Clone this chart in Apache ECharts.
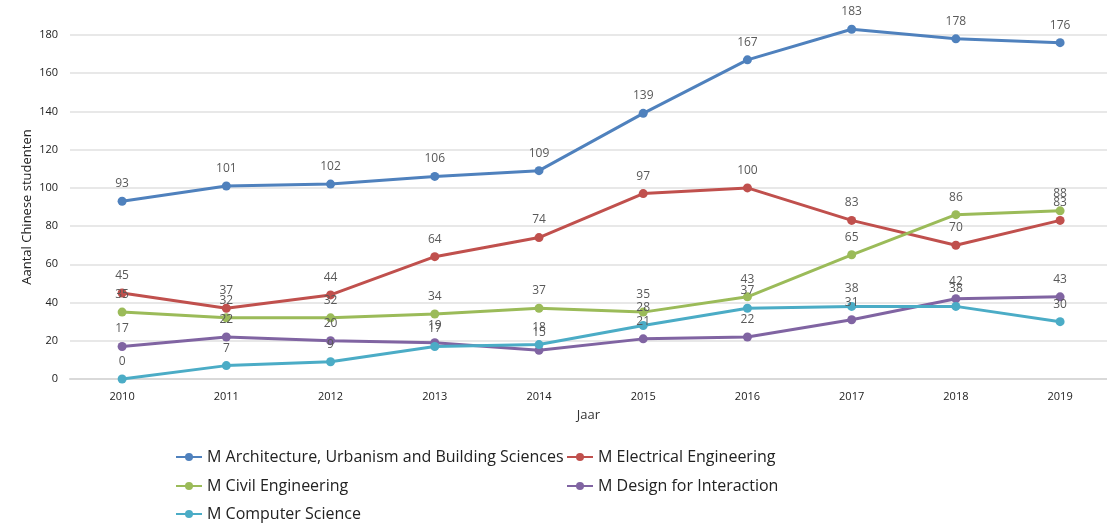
<!DOCTYPE html>
<html>
<head>
<meta charset="utf-8">
<script src="https://cdn.jsdelivr.net/npm/echarts@6/dist/echarts.min.js"></script>
<style>html,body{margin:0;padding:0;background:#fff}#c{width:1107px;height:525px}</style>
</head>
<body>
<div id="c"></div>
<script>
const years = [2010,2011,2012,2013,2014,2015,2016,2017,2018,2019];
const architecture = [93,101,102,106,109,139,167,183,178,176];
const electrical = [45,37,44,64,74,97,100,83,70,83];
const civil = [35,32,32,34,37,35,43,65,86,88];
const design = [17,22,20,19,15,21,22,31,42,43];
const computer = [0,7,9,17,18,28,37,38,38,30];
const names = ['M Architecture, Urbanism and Building Sciences','M Electrical Engineering','M Civil Engineering','M Design for Interaction','M Computer Science'];
const colors = ['#4F81BD','#C0504D','#9BBB59','#8064A2','#4BACC6'];
const seriesData = [architecture, electrical, civil, design, computer];

const FONT = '"Open Sans", "Noto Sans", sans-serif';
const chart = echarts.init(document.getElementById('c'), null, {renderer:'canvas'});
const legendPos = [[175,449],[566,449],[175,478],[566,478],[175,506]];
chart.setOption({
  animation:false,
  color: colors,
  grid:{left:70, top:35, right:0, height:344, containLabel:false},
  legend: names.map((n,i)=>({
    data:[n], left:legendPos[i][0], top:legendPos[i][1], padding:0, itemWidth:26, itemHeight:10, itemGap:0,
    textStyle:{fontFamily:FONT, fontSize:16, color:'#222'}
  })),
  xAxis:{
    type:'value', min:2009.5, max:2019.45,
    name:'Jaar', nameLocation:'middle', nameGap:30,
    nameTextStyle:{fontFamily:FONT, fontSize:13, color:'#333'},
    axisLine:{show:true, onZero:false, lineStyle:{color:'#d9d9d9', width:2}},
    axisTick:{show:false},
    splitLine:{show:false},
    axisLabel:{customValues:years, fontFamily:FONT, fontSize:11, color:'#222', margin:12, formatter:v=>String(v)}
  },
  yAxis:{
    type:'value', min:0, max:180, interval:20,
    name:'Aantal Chinese studenten', nameLocation:'middle', nameGap:36, nameRotate:90, nameMoveOverlap:false,
    nameTextStyle:{fontFamily:FONT, fontSize:13, color:'#222'},
    axisLine:{show:false}, axisTick:{show:false},
    axisLabel:{fontFamily:FONT, fontSize:11, color:'#222', margin:12},
    splitLine:{lineStyle:{color:'#e0e0e0', width:1.5}}
  },
  series: seriesData.map((d,i)=>({
    name:names[i], type:'line', data:d.map((v,j)=>[years[j], v]),
    clip:false,
    symbol:'circle', symbolSize:9,
    lineStyle:{width:3, color:colors[i]},
    itemStyle:{color:colors[i]},
    label:{show:true, position:'top', distance:7, fontFamily:FONT, fontSize:12, color:'#595959', formatter:p=>p.value[1]}
  }))
});
</script>
</body>
</html>
